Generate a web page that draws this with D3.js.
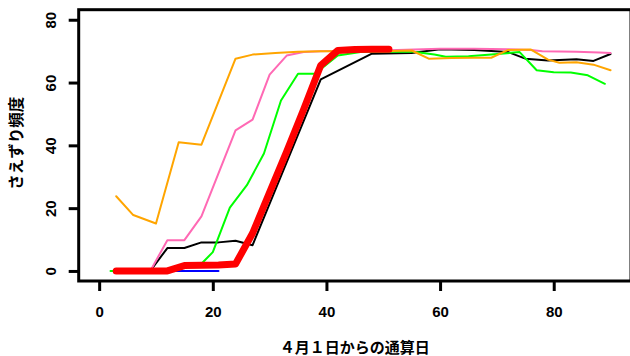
<!DOCTYPE html>
<html><head><meta charset="utf-8">
<script src="https://cdn.jsdelivr.net/npm/d3@7"></script>
<style>html,body{margin:0;padding:0;background:#fff;overflow:hidden}</style>
</head><body>
<svg id="c" width="630" height="356"></svg>
<script>
const xTicks = [0, 20, 40, 60, 80];
const yTicks = [0, 20, 40, 60, 80];
const xLabel = "４月１日からの通算日";
const yLabel = "さえずり頻度";

const blackX = [3, 6, 9, 12, 15, 18, 21, 24, 27, 39, 48, 55, 60, 66, 72, 75, 79, 84, 87, 90];
const blackY = [0, 0, 0, 7.3, 7.3, 9.1, 9.1, 9.6, 8.2, 61, 69.2, 69.4, 70.6, 70.4, 69.7, 67.6, 67.0, 67.4, 66.9, 69.1];

const greenX = [2, 5, 8, 11, 14, 18, 20, 23, 26, 29, 32, 35, 38, 42, 46, 50, 55, 59, 61, 65, 69, 74, 77, 80, 83, 86, 89];
const greenY = [0, 0, 0, 0, 1.5, 2.3, 6, 20.2, 27.3, 37.4, 54.3, 62.8, 62.8, 68.6, 69.7, 69.8, 69.9, 68.9, 68.2, 68.4, 68.9, 69.7, 63.9, 63.3, 63.2, 62.3, 59.6];

const pinkX = [3, 6, 9, 12, 15, 18, 24, 27, 30, 33, 36, 39, 45, 51, 60, 66, 72, 76, 78, 84, 88, 90];
const pinkY = [0, 0, 0, 9.8, 9.8, 17.4, 44.8, 48.2, 62.5, 68.6, 69.7, 70.0, 70.2, 70.3, 70.8, 70.8, 70.6, 70.4, 70.0, 69.8, 69.6, 69.4];

const orangeX = [3, 6, 10, 14, 18, 24, 27, 31, 35, 39, 42, 46, 50, 55, 58, 62, 66, 69, 72, 76, 79, 81, 84, 87, 90];
const orangeY = [23.8, 17.8, 15.1, 41.0, 40.2, 67.6, 68.9, 69.4, 69.8, 70.0, 70.0, 70.0, 70.0, 70.2, 67.6, 67.8, 67.9, 67.9, 70.4, 70.5, 67.3, 66.3, 66.5, 65.7, 63.9];

const blueX = [3, 6, 9, 12, 15, 18, 21];
const blueY = [0, 0, 0, 0, 0, 0, 0];

const redX = [3, 6, 9, 12, 15, 18, 21, 24, 27, 30, 33, 36, 39, 42, 45, 48, 51];
const redY = [0, 0, 0, 0, 1.7, 1.8, 1.9, 2.2, 12, 25, 38, 51.5, 65.5, 70.2, 70.5, 70.6, 70.6];

const series = [
  {x: blackX, y: blackY, color: "#000000", w: 2},
  {x: greenX, y: greenY, color: "#00FF00", w: 2},
  {x: pinkX, y: pinkY, color: "#FF69B4", w: 2},
  {x: orangeX, y: orangeY, color: "#FFA500", w: 2},
  {x: blueX, y: blueY, color: "#0000FF", w: 2},
  {x: redX, y: redY, color: "#FF0000", w: 7}
];

const pL = 78.7, pR = 631, pT = 9.7, pB = 281;
const x = d3.scaleLinear().domain([-3.6, 93.6]).range([pL, pR]);
const y = d3.scaleLinear().domain([-3.2, 83.2]).range([pB, pT]);

const svg = d3.select("#c");
const font = "'Liberation Sans', Arial, Helvetica, sans-serif";
const cjk = "'Noto Sans CJK JP', 'Noto Sans CJK SC', sans-serif";

const line = d3.line().x(d => x(d[0])).y(d => y(d[1]));
series.forEach(s => {
  svg.append("path")
    .datum(s.x.map((v, i) => [v, s.y[i]]))
    .attr("d", line)
    .attr("fill", "none")
    .attr("stroke", s.color)
    .attr("stroke-width", s.w)
    .attr("stroke-linejoin", "round")
    .attr("stroke-linecap", "round");
});

// box
svg.append("rect").attr("x", pL).attr("y", pT)
  .attr("width", pR - pL).attr("height", pB - pT)
  .attr("fill", "none").attr("stroke", "#000").attr("stroke-width", 3);

// x axis
const xa = svg.append("g").attr("transform", `translate(0,${pB})`)
  .call(d3.axisBottom(x).tickValues(xTicks).tickSize(10).tickSizeOuter(0).tickPadding(0).tickFormat(d3.format("d")));
xa.select(".domain").remove();
xa.selectAll(".tick line").attr("stroke", "#000").attr("stroke-width", 3);
xa.selectAll(".tick text").attr("y", 36).attr("dy", null)
  .attr("font-family", font).attr("font-size", 15).attr("font-weight", "bold").attr("fill", "#000");

// y axis
const ya = svg.append("g").attr("transform", `translate(${pL},0)`)
  .call(d3.axisLeft(y).tickValues(yTicks).tickSize(10).tickSizeOuter(0).tickFormat(d3.format("d")));
ya.select(".domain").remove();
ya.selectAll(".tick line").attr("stroke", "#000").attr("stroke-width", 3);
ya.selectAll(".tick text")
  .attr("x", null).attr("dy", null)
  .attr("transform", "translate(-23,0) rotate(-90)")
  .attr("text-anchor", "middle")
  .attr("font-family", font).attr("font-size", 15).attr("font-weight", "bold").attr("fill", "#000");

// axis titles
svg.append("text").attr("x", (pL + pR) / 2).attr("y", 346)
  .attr("text-anchor", "middle").attr("dominant-baseline", "central")
  .attr("font-family", cjk).attr("font-size", 15).attr("font-weight", "bold")
  .text(xLabel);
svg.append("text").attr("transform", `translate(15,${(pT + pB) / 2 - 2}) rotate(-90)`)
  .attr("text-anchor", "middle").attr("dominant-baseline", "central")
  .attr("font-family", cjk).attr("font-size", 15.5).attr("font-weight", "bold")
  .text(yLabel);
</script>
</body></html>
